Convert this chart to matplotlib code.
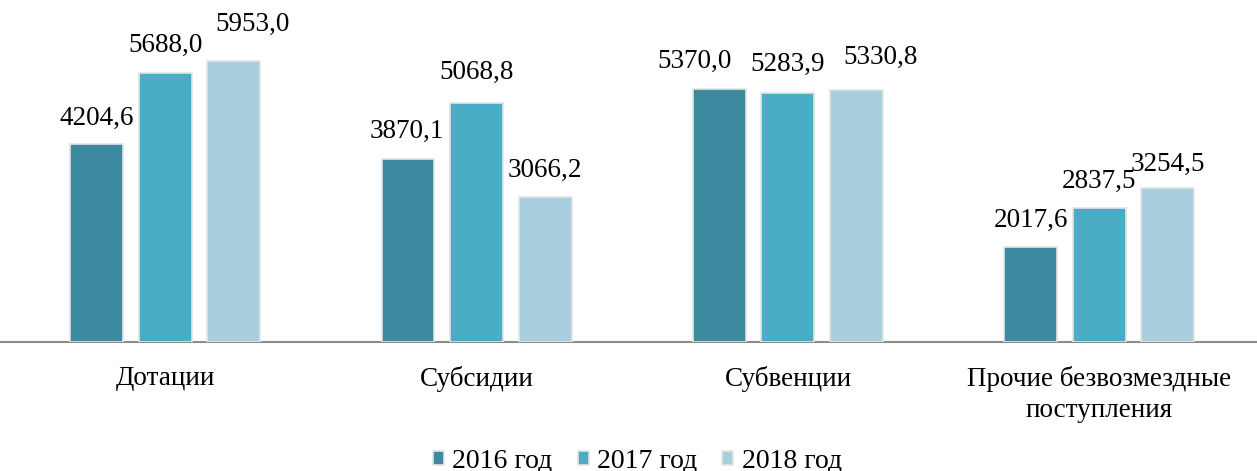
import matplotlib
matplotlib.use("Agg")
import matplotlib.pyplot as plt
import numpy as np

# Данные
categories = ["Дотации", "Субсидии", "Субвенции", "Прочие безвозмездные\nпоступления"]
years = ["2016 год", "2017 год", "2018 год"]
v2016 = [4204.6, 3870.1, 5370.0, 2017.6]
v2017 = [5688.0, 5068.8, 5283.9, 2837.5]
v2018 = [5953.0, 3066.2, 5330.8, 3254.5]

colors = ["#3c8aa0", "#4bacc6", "#a9cfdf"]
# смещение подписей (пиксели) относительно вершины столбца, по годам
label_dx = [[0, -1, -25, 0],
            [0, 0, 0, 0],
            [19, 0, 24, 0]]
label_dy = [[25, 28, 27, 26],
            [28, 30, 28, 27],
            [37, 27, 33, 24]]

plt.rcParams['font.family'] = ['Liberation Serif', 'DejaVu Serif']

fig = plt.figure(figsize=(12.57, 4.71), dpi=100)
ax = fig.add_axes([0, (471 - 342) / 471, 1, 342 / 471])

x = np.arange(len(categories))
step = 0.22
width = 0.17
series = [v2016, v2017, v2018]
for i, vals in enumerate(series):
    bars = ax.bar(x + (i - 1) * step, vals, width, color=colors[i],
                  edgecolor="#e4e4e4", linewidth=1.2, label=years[i], zorder=3)
    for j, b in enumerate(bars):
        val = vals[j]
        txt = f"{val:.1f}".replace(".", ",")
        ax.annotate(txt, (b.get_x() + b.get_width() / 2, val),
                    xytext=(label_dx[i][j] * 0.72, label_dy[i][j] * 0.72),
                    textcoords="offset points",
                    ha="center", va="center", fontsize=19.5)

ax.set_xlim(-0.53, 3.506)
ax.set_ylim(0, 7245)
ax.set_yticks([])
ax.set_xticks(x)
ax.set_xticklabels(categories, fontsize=19.5, linespacing=1.35)
ax.tick_params(axis="x", length=0, pad=17)
for s in ["top", "right", "left"]:
    ax.spines[s].set_visible(False)
ax.spines["bottom"].set_color("#8c8c8c")
ax.spines["bottom"].set_linewidth(1.5)

fig.legend(loc="center", bbox_to_anchor=(0.507, 10 / 471), ncol=3, frameon=False,
           fontsize=20, handlelength=0.4, handleheight=0.4, handletextpad=0.3,
           columnspacing=0.9)

fig.savefig("out.png", dpi=100)
